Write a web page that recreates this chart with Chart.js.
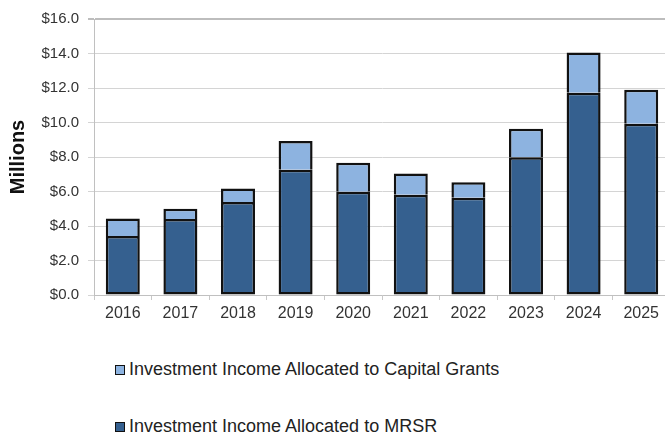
<!DOCTYPE html>
<html>
<head>
<meta charset="utf-8">
<script src="https://cdn.jsdelivr.net/npm/chart.js@4"></script>
<style>
    html, body { margin: 0; padding: 0; background: #fff; overflow: hidden; }
    body { width: 665px; height: 433px; position: relative; }
    #chartBox { position: absolute; left: 0; top: 0; width: 680px; height: 330px; }
    #legendBox { position: absolute; left: 115px; top: 0; font-family: "Liberation Sans", Arial, sans-serif; font-size: 18px; color: #222; }
    .legend-item { position: absolute; left: 0; white-space: nowrap; display: flex; align-items: center; }
    .legend-swatch { width: 8px; height: 8px; border: 1px solid #111; margin-right: 4px; }
</style>
</head>
<body>
<div id="chartBox"><canvas id="incomeChart"></canvas></div>
<div id="legendBox"></div>
<script>
// 연도별 투자수익 배분 (단위: 백만 달러)
const years = ['2016', '2017', '2018', '2019', '2020', '2021', '2022', '2023', '2024', '2025'];
const mrsrIncome = [3.42, 4.40, 5.39, 7.26, 5.99, 5.81, 5.64, 7.98, 11.73, 9.93];
const grantIncome = [1.02, 0.60, 0.79, 1.67, 1.68, 1.24, 0.89, 1.66, 2.33, 1.97];
const yTicks = [0, 2, 4, 6, 8, 10, 12, 14, 16];

const mrsrLabel = 'Investment Income Allocated to MRSR';
const grantLabel = 'Investment Income Allocated to Capital Grants';

const fontFamily = '"Liberation Sans", Arial, sans-serif';

const ctx = document.getElementById('incomeChart').getContext('2d');
const incomeChart = new Chart(ctx, {
    type: 'bar',
    data: {
        labels: years,
        datasets: [{
            label: mrsrLabel,
            data: mrsrIncome,
            backgroundColor: '#35608f',
            borderColor: '#111',
            borderWidth: 2.5,
            borderSkipped: false,
            barPercentage: 0.59,
            categoryPercentage: 1
        }, {
            label: grantLabel,
            data: grantIncome,
            backgroundColor: '#8db3e0',
            borderColor: '#111',
            // 아래 테두리는 MRSR 막대 윗선과 겹치므로 생략
            borderWidth: { top: 2.5, left: 2.5, right: 2.5, bottom: 0 },
            borderSkipped: false,
            barPercentage: 0.59,
            categoryPercentage: 1
        }]
    },
    options: {
        responsive: true,
        maintainAspectRatio: false,
        animation: false,
        layout: { padding: { top: 19, left: 0, right: 10, bottom: 0 } },
        plugins: {
            legend: { display: false },
            tooltip: { enabled: false }
        },
        scales: {
            x: {
                stacked: true,
                offset: true,
                grid: {
                    offset: true,
                    drawOnChartArea: false,
                    drawTicks: true,
                    tickLength: 5,
                    color: '#c8c8c8'
                },
                border: { color: '#c0c0c0', width: 1 },
                ticks: {
                    padding: 4,
                    color: '#333',
                    font: { family: fontFamily, size: 16 }
                },
                afterFit: (scale) => { scale.height = 35; }
            },
            y: {
                stacked: true,
                min: 0,
                max: 16,
                afterBuildTicks: (scale) => {
                    scale.ticks = yTicks.map(v => ({ value: v }));
                },
                grid: {
                    tickLength: 6,
                    color: (c) => c.tick && c.tick.value === 16 ? '#bdbdbd' : '#d4d4d4',
                    lineWidth: (c) => c.tick && c.tick.value === 16 ? 2 : 1
                },
                border: { color: '#c0c0c0', width: 1 },
                ticks: {
                    padding: 9,
                    color: '#333',
                    font: { family: fontFamily, size: 15 },
                    callback: (value) => '$' + value.toFixed(1)
                },
                title: {
                    display: true,
                    text: 'Millions',
                    color: '#111',
                    font: { family: fontFamily, size: 20, weight: 'bold' },
                    padding: { top: 6, bottom: 0 }
                },
                afterFit: (scale) => { scale.width = 94; }
            }
        }
    }
});

// 범례: 위쪽 항목이 먼저 오도록 역순으로 표시
function buildLegend(chart) {
    const legendBox = document.getElementById('legendBox');
    legendBox.innerHTML = '';
    const rowTops = [359, 416];
    chart.data.datasets.slice().reverse().forEach((ds, i) => {
        const item = document.createElement('div');
        item.className = 'legend-item';
        item.style.top = rowTops[i] + 'px';
        item.innerHTML = `<span class="legend-swatch" style="background:${ds.backgroundColor}"></span><span>${ds.label}</span>`;
        legendBox.appendChild(item);
    });
}

buildLegend(incomeChart);
</script>
</body>
</html>
